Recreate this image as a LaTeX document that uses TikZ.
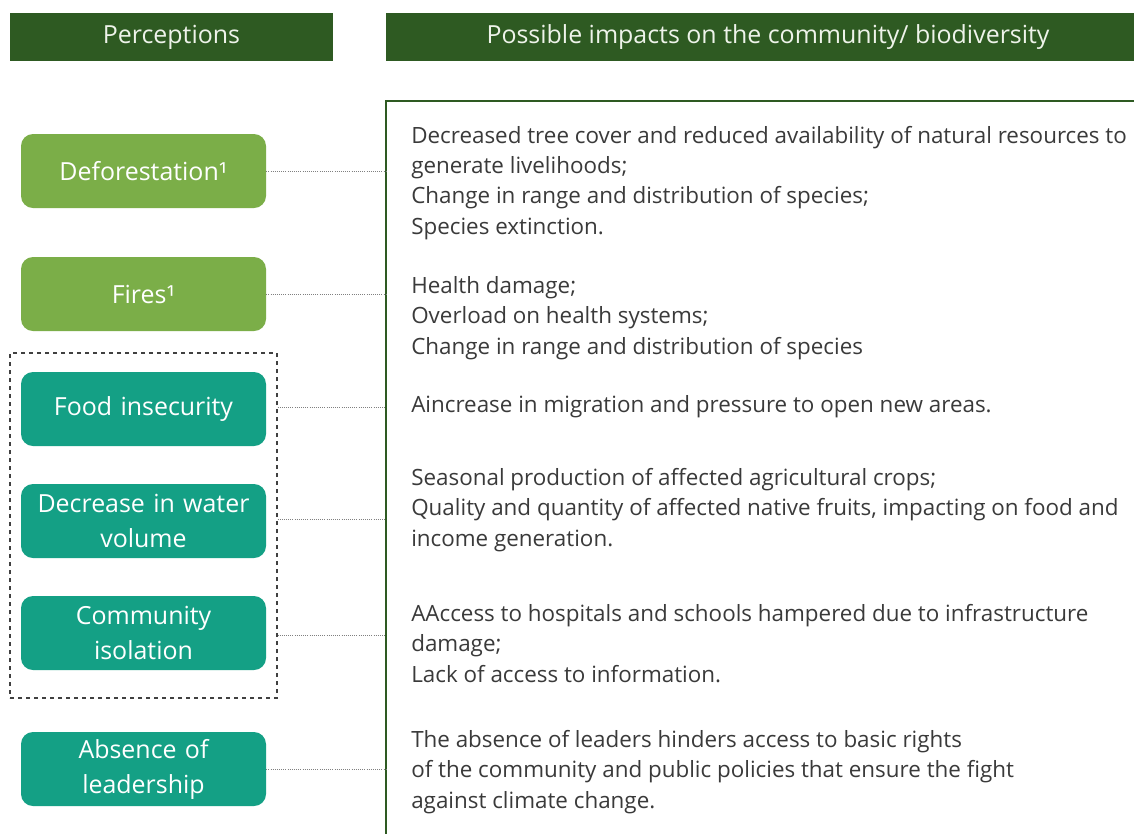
\documentclass[tikz,border=0pt]{standalone}
\usepackage{fontspec}
\setmainfont{Open Sans}
\usetikzlibrary{fit}
\definecolor{hdrgreen}{HTML}{2E5A22}
\definecolor{lightgreen}{HTML}{7BAE48}
\definecolor{tealbox}{HTML}{14A085}
\definecolor{bodytext}{HTML}{3A3A3A}
\definecolor{hdrtext}{HTML}{EEF3EA}
\begin{document}
\begin{tikzpicture}[x=0.75pt,y=-0.75pt,
  hdrbox/.style={fill=hdrgreen, text=hdrtext, inner sep=0pt, font=\fontsize{18.7}{22}\selectfont, minimum height=36pt},
  percbox/.style={rounded corners=9pt, minimum width=183.75pt, minimum height=55.5pt, text width=180pt, inner sep=0pt, align=center, text=white, font=\fontsize{18.7}{26.3}\selectfont},
  greenbox/.style={percbox, fill=lightgreen},
  tealnode/.style={percbox, fill=tealbox},
  impact/.style={anchor=base west, align=left, inner sep=0pt, text=bodytext, font=\fontsize{16.8}{22.6}\selectfont},
  link/.style={densely dotted, gray, line width=0.6pt},
  groupframe/.style={draw=black!75, dashed, line width=0.8pt, inner sep=0pt},
  impactframe/.style={draw=hdrgreen, line width=1.1pt}
]
\useasboundingbox (0,0) rectangle (1134,833);
\clip (0,0) rectangle (1134,833);
\fill[white] (0,0) rectangle (1134,833);

% headers
\node[hdrbox, minimum width=242.25pt] (h1) at (171.5,37) {Perceptions};
\node[hdrbox, minimum width=573pt] (h2) at (768,37) {Possible impacts on the community/ biodiversity};

% impacts frame
\draw[impactframe] (1140,101) -- (386,101) -- (386,840);

% perception boxes
\node[greenbox] (defo) at (143.5,171) {Deforestation¹};
\node[greenbox] (fire) at (143.5,294) {Fires¹};
\node[tealnode] (food) at (143.5,409) {Food insecurity};
\node[tealnode] (water) at (143.5,521) {Decrease in water\\volume};
\node[tealnode] (iso) at (143.5,633) {Community\\isolation};
\node[tealnode] (lead) at (143.5,769) {Absence of\\leadership};

\node[groupframe, fit={(10,353) (277,698)}] (grp) {};

% connector ends on frame
\coordinate (e1) at (386,171);
\coordinate (e2) at (386,294);
\coordinate (e3) at (386,407);
\coordinate (e4) at (386,519);
\coordinate (e5) at (386,635);
\coordinate (e6) at (386,769);

\draw[link] (defo.east) -- (e1);
\draw[link] (fire.east) -- (e2);
\draw[link] (e3 -| grp.east) -- (e3);
\draw[link] (e4 -| grp.east) -- (e4);
\draw[link] (e5 -| grp.east) -- (e5);
\draw[link] (lead.east) -- (e6);

% impact texts (anchored at the baseline of the last line)
\node[impact] (t1) at (411,234) {Decreased tree cover and reduced availability of natural resources to\\generate livelihoods;\\Change in range and distribution of species;\\Species extinction.};
\node[impact] (t2) at (411,354) {Health damage;\\Overload on health systems;\\Change in range and distribution of species};
\node[impact] (t3) at (411,412) {Aincrease in migration and pressure to open new areas.};
\node[impact] (t4) at (411,546) {Seasonal production of affected agricultural crops;\\Quality and quantity of affected native fruits, impacting on food and\\income generation.};
\node[impact] (t5) at (411,682) {AAccess to hospitals and schools hampered due to infrastructure\\damage;\\Lack of access to information.};
\node[impact] (t6) at (411,808) {The absence of leaders hinders access to basic rights\\of the community and public policies that ensure the fight\\against climate change.};
\end{tikzpicture}
\end{document}
